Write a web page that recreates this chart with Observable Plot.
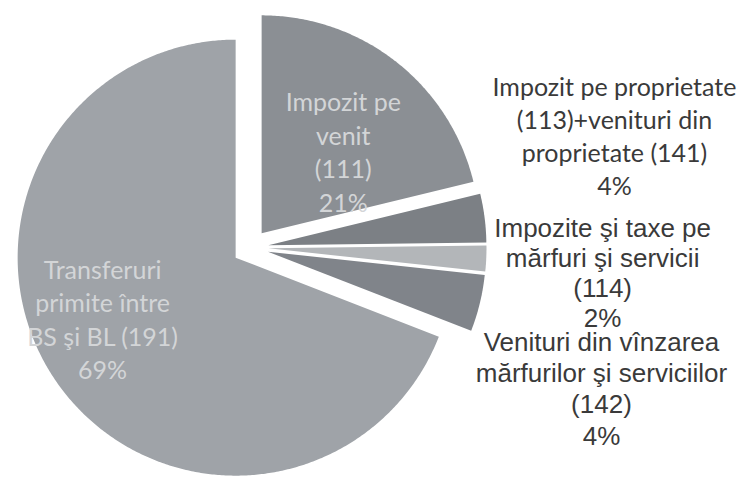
<!DOCTYPE html>
<html><head><meta charset="utf-8">
<script src="https://cdn.jsdelivr.net/npm/d3@7"></script>
<script src="https://cdn.jsdelivr.net/npm/@observablehq/plot@0.6"></script>
<style>body{margin:0;background:#fff;}#chart svg{display:block;}</style>
</head><body><div id="chart"></div>
<script>
// ---- data ----
const categories = [
  "Impozit pe venit (111)",
  "Impozit pe proprietate (113)+venituri din proprietate (141)",
  "Impozite şi taxe pe mărfuri şi servicii (114)",
  "Venituri din vînzarea mărfurilor şi serviciilor (142)",
  "Transferuri primite între BS şi BL (191)"
];
const shares = [21.2, 3.6, 1.9, 4.2, 69.1];
const percentLabels = ["21%", "4%", "2%", "4%", "69%"];
const labelLines = [
  ["Impozit pe", "venit", "(111)"],
  ["Impozit pe proprietate", "(113)+venituri din", "proprietate (141)"],
  ["Impozite şi taxe pe", "mărfuri şi servicii", "(114)"],
  ["Venituri din vînzarea", "mărfurilor şi serviciilor", "(142)"],
  ["Transferuri", "primite între", "BS şi BL (191)"]
];

// ---- styles / layout ----
const fills = ["#8b8f94", "#7c8085", "#b3b6b9", "#80848a", "#9fa3a8"];
const W = 738, H = 482, cx = 250, cy = 247, R = 218, explode = 18;
// label anchor in polar form around the pie centre: [angle deg clockwise from 12 o'clock, radius px]
const labelPolar = [[43.8, 134], [72.8, 381], [94.0, 353], [111.8, 378], [244.4, 164]];
const labelStyle = [
  {font: "Lato", size: 25, fill: "#d3d5d7", lh: 1.34},
  {font: "Lato", size: 25, fill: "#3a3a3a", lh: 1.32},
  {font: "Liberation Sans", size: 26, fill: "#3a3a3a", lh: 1.15},
  {font: "Liberation Sans", size: 26, fill: "#3a3a3a", lh: 1.2}
  ,{font: "Lato", size: 25, fill: "#d3d5d7", lh: 1.34}
];

const arcs = d3.pie().sort(null).startAngle(0).endAngle(2 * Math.PI)(shares);
const pts = [];
arcs.forEach((a, i) => {
  const mid = (a.startAngle + a.endAngle) / 2;
  const ox = cx + explode * Math.sin(mid), oy = cy - explode * Math.cos(mid);
  pts.push({k: i, x: ox, y: oy});
  const n = Math.max(2, Math.ceil((a.endAngle - a.startAngle) / (Math.PI / 360)));
  for (let j = 0; j <= n; j++) {
    const t = a.startAngle + (a.endAngle - a.startAngle) * j / n;
    pts.push({k: i, x: ox + R * Math.sin(t), y: oy - R * Math.cos(t)});
  }
  pts.push({k: i, x: ox, y: oy});
});

const labels = categories.map((c, i) => {
  const [deg, r] = labelPolar[i];
  const t = deg * Math.PI / 180;
  return {i, name: c, x: cx + r * Math.sin(t), y: cy - r * Math.cos(t),
          text: labelLines[i].concat([percentLabels[i]]).join("\n")};
});

const textMarks = labels.map(l => {
  const s = labelStyle[l.i];
  return Plot.text([l], {x: "x", y: "y", text: "text", fontFamily: s.font, fontSize: s.size,
    fill: s.fill, lineHeight: s.lh, textAnchor: "middle", lineAnchor: "middle"});
});

const chart = Plot.plot({
  width: W, height: H, margin: 0,
  x: {domain: [0, W], range: [0, W], axis: null},
  y: {domain: [0, H], range: [0, H], axis: null},
  color: {type: "identity"},
  marks: [
    Plot.line(pts, {x: "x", y: "y", z: "k", fill: d => fills[d.k], stroke: "none", curve: "linear"}),
    ...textMarks
  ]
});
document.getElementById("chart").appendChild(chart);
</script>
</body></html>
